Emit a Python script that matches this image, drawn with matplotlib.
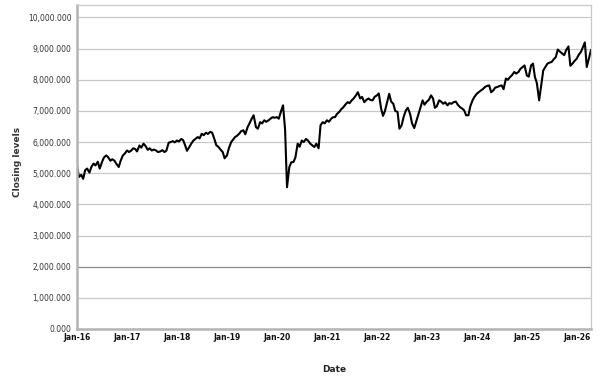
import matplotlib
matplotlib.use("Agg")
import matplotlib.pyplot as plt
import matplotlib.dates as mdates
from matplotlib.ticker import FuncFormatter
import pandas as pd

# closing levels, one value on the 1st and one on the 15th of each month
start_date = "2016-01-01"
closing = [
    # 2016
    5250, 4880, 4950, 4820, 5100, 5150, 5020, 5200, 5310, 5250, 5370, 5150,
    5350, 5500, 5570, 5520, 5400, 5450, 5400, 5300, 5200, 5400, 5570, 5630,
    # 2017
    5730, 5680, 5730, 5800, 5780, 5700, 5890, 5820, 5950, 5880, 5750, 5800,
    5730, 5760, 5730, 5680, 5700, 5740, 5680, 5720, 5980, 6000, 6030, 5990,
    # 2018
    6050, 6020, 6100, 6060, 5900, 5720, 5840, 5950, 6050, 6100, 6160, 6120,
    6270, 6220, 6300, 6260, 6330, 6300, 6100, 5900, 5840, 5760, 5680, 5480,
    # 2019
    5570, 5800, 6000, 6080, 6160, 6200, 6270, 6350, 6380, 6250, 6480, 6600,
    6750, 6860, 6480, 6430, 6640, 6600, 6700, 6650, 6700, 6750, 6800, 6780,
    # 2020
    6800, 6750, 7000, 7180, 6400, 4550, 5200, 5350, 5360, 5500, 5950, 5850,
    6050, 6000, 6100, 6050, 5950, 5900, 5840, 5950, 5800, 6540, 6640, 6600,
    # 2021
    6700, 6650, 6750, 6800, 6800, 6900, 6970, 7050, 7120, 7200, 7280, 7250,
    7340, 7400, 7500, 7600, 7400, 7450, 7280, 7350, 7400, 7350, 7340, 7450,
    # 2022
    7500, 7560, 7070, 6840, 7000, 7250, 7550, 7300, 7230, 7000, 6970, 6430,
    6540, 6800, 7020, 7100, 6900, 6600, 6450, 6650, 6900, 7100, 7340, 7200,
    # 2023
    7300, 7350, 7500, 7400, 7100, 7150, 7340, 7300, 7230, 7280, 7180, 7250,
    7230, 7280, 7300, 7200, 7120, 7080, 7020, 6860, 6860, 7150, 7340, 7450,
    # 2024
    7550, 7600, 7660, 7700, 7770, 7800, 7820, 7600, 7660, 7750, 7770, 7800,
    7820, 7700, 8040, 8000, 8090, 8150, 8250, 8200, 8250, 8350, 8410, 8460,
    # 2025
    8140, 8100, 8460, 8520, 8090, 7900, 7340, 7800, 8300, 8400, 8520, 8550,
    8570, 8650, 8730, 8970, 8900, 8850, 8790, 8950, 9070, 8450, 8520, 8600,
    # 2026
    8680, 8800, 8900, 9050, 9200, 8410, 8700, 8950,
]
x = pd.date_range(start_date, periods=len(closing), freq="SMS")
year_ticks = pd.date_range("2016-01-01", "2026-01-01", freq="YS")

fig = plt.figure(figsize=(6.05, 3.86), dpi=100)
ax = fig.add_axes([77 / 605, 1 - 329 / 386, (591 - 77) / 605, (329 - 5) / 386])

ax.plot(x, closing, color="black", linewidth=1.5)

ax.set_xlim(x[0], x[-1])
ax.set_ylim(0, 10400)
ax.set_yticks(range(0, 10001, 1000))
ax.yaxis.set_major_formatter(FuncFormatter(lambda v, p: f"{v:,.3f}"))
ax.set_xticks(year_ticks)
ax.xaxis.set_major_formatter(mdates.DateFormatter("%b-%y"))

ax.grid(axis="y", color="#c8c8c8", linewidth=0.9)
ax.get_ygridlines()[2].set_color("#8a8a8a")
ax.set_axisbelow(True)

ax.tick_params(axis="y", length=0, pad=4, labelsize=5.5, labelcolor="#333333")
ax.tick_params(axis="x", length=0, pad=3, labelsize=5.5, labelcolor="#111111")
for lbl in ax.get_xticklabels():
    lbl.set_fontweight("bold")

for side in ["top", "right"]:
    ax.spines[side].set_color("#c8c8c8")
    ax.spines[side].set_linewidth(0.9)
for side in ["left", "bottom"]:
    ax.spines[side].set_color("#b4b4b4")
    ax.spines[side].set_linewidth(1.8)

ax.set_xlabel("Date", fontsize=6.5, fontweight="bold", color="#222222")
ax.set_ylabel("Closing levels", fontsize=6.5, fontweight="bold", color="#333333")
ax.xaxis.set_label_coords(0.5, -0.11)
ax.yaxis.set_label_coords(-0.107, 0.515)

fig.savefig("out.png", dpi=100)
